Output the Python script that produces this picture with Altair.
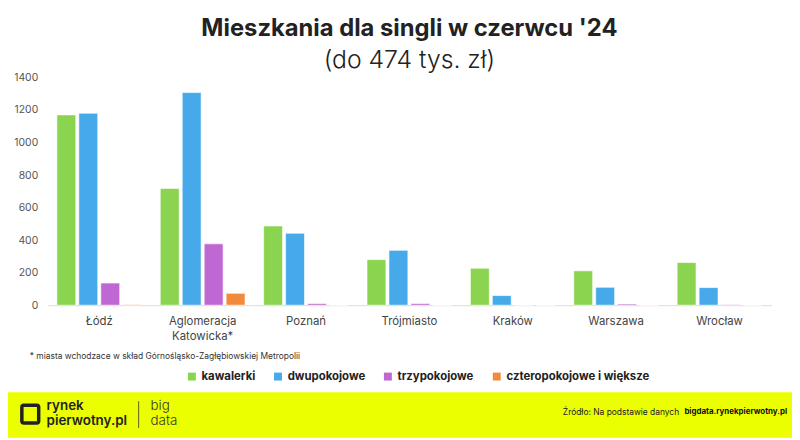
import altair as alt
import pandas as pd

cities = ["Łódź", "Aglomeracja Katowicka*", "Poznań", "Trójmiasto", "Kraków", "Warszawa", "Wrocław"]
types = ["kawalerki", "dwupokojowe", "trzypokojowe", "czteropokojowe i większe"]
kawalerki = [1170, 718, 487, 280, 227, 211, 262]
dwupokojowe = [1180, 1307, 442, 337, 59, 110, 108]
trzypokojowe = [136, 377, 10, 10, 0, 7, 3]
czteropokojowe = [3, 73, 0, 0, 0, 0, 0]
colors = ["#8AD44F", "#46A9EA", "#BF67D3", "#F18B3B"]
y_ticks = [0, 200, 400, 600, 800, 1000, 1200, 1400]

series = [kawalerki, dwupokojowe, trzypokojowe, czteropokojowe]
rows = []
for t, vals in zip(types, series):
    for c, v in zip(cities, vals):
        rows.append({"miasto": c, "typ": t, "liczba": v})
df = pd.DataFrame(rows)

FONT = "Inter"
W, H = 731, 230

bars = alt.Chart(df).mark_bar(stroke="white", strokeWidth=1, strokeOpacity=0.6).encode(
    x=alt.X("miasto:N", sort=cities, title=None,
            scale=alt.Scale(paddingInner=0.18, paddingOuter=0.09),
            axis=alt.Axis(labelAngle=0, ticks=False, domainColor="#dddddd", domainWidth=1,
                          labelFont=FONT, labelFontSize=11.5, labelColor="#444444",
                          labelPadding=11, labelLineHeight=15,
                          labelExpr="datum.label == 'Aglomeracja Katowicka*' ? ['Aglomeracja', 'Katowicka*'] : datum.label")),
    xOffset=alt.XOffset("typ:N", sort=types, scale=alt.Scale(paddingInner=0.14, paddingOuter=0)),
    y=alt.Y("liczba:Q", title=None, scale=alt.Scale(domain=[0, 1400], nice=False),
            axis=alt.Axis(values=y_ticks, format="d", grid=False, domain=False, ticks=False,
                          labelFont=FONT, labelFontSize=10.5, labelColor="#555555", labelPadding=10)),
    color=alt.Color("typ:N", sort=types, title=None,
                    scale=alt.Scale(domain=types, range=colors),
                    legend=alt.Legend(orient="none", legendX=140, legendY=296, direction="horizontal",
                                      symbolType="square", symbolSize=64, symbolStrokeWidth=0,
                                      labelFont=FONT, labelFontSize=11.5, labelFontWeight="bold",
                                      labelColor="#222222", columnPadding=17, labelOffset=4,
                                      labelLimit=300)),
)


def deco():
    return alt.Chart(alt.Data(values=[{"k": 1}]))


# Abs pixel -> plot coords: x - 48, y - 76
footer = deco().mark_rect(color="#EBFF00").encode(
    x=alt.value(-40), x2=alt.value(752), y=alt.value(318), y2=alt.value(364))

footnote = deco().mark_text(align="left", baseline="middle", font=FONT, fontSize=8.5, color="#333333").encode(
    x=alt.value(30 - 48), y=alt.value(357 - 76),
    text=alt.value("* miasta wchodzace w skład Górnośląsko-Zagłębiowskiej Metropolii"))

logo_box = deco().mark_rect(fillOpacity=0, stroke="#222222", strokeWidth=3.5, cornerRadius=2).encode(
    x=alt.value(22 - 48), x2=alt.value(39 - 48), y=alt.value(407 - 76), y2=alt.value(425 - 76))
logo_rynek = deco().mark_text(align="left", baseline="middle", font=FONT, fontSize=13.5, fontWeight=600,
                              color="#222222").encode(
    x=alt.value(47 - 48), y=alt.value(408 - 76), text=alt.value("rynek"))
logo_pierw = deco().mark_text(align="left", baseline="middle", font=FONT, fontSize=13.5, fontWeight=600,
                              color="#222222").encode(
    x=alt.value(47 - 48), y=alt.value(423 - 76), text=alt.value("pierwotny.pl"))
logo_sep = deco().mark_rule(color="#333333", strokeWidth=0.8).encode(
    x=alt.value(140 - 48), y=alt.value(403 - 76), y2=alt.value(430 - 76))
logo_big = deco().mark_text(align="left", baseline="middle", font=FONT, fontSize=13.5, fontWeight=300,
                            color="#333333").encode(
    x=alt.value(152 - 48), y=alt.value(408 - 76), text=alt.value("big"))
logo_data = deco().mark_text(align="left", baseline="middle", font=FONT, fontSize=13.5, fontWeight=300,
                             color="#333333").encode(
    x=alt.value(152 - 48), y=alt.value(423 - 76), text=alt.value("data"))

src_norm = deco().mark_text(align="right", baseline="middle", font=FONT, fontSize=8.5, color="#222222").encode(
    x=alt.value(686 - 48), y=alt.value(414 - 76), text=alt.value("Źródło: Na podstawie danych"))
src_bold = deco().mark_text(align="right", baseline="middle", font=FONT, fontSize=8, fontWeight="bold",
                            color="#111111").encode(
    x=alt.value(795 - 48), y=alt.value(414 - 76), text=alt.value("bigdata.rynekpierwotny.pl"))

chart = alt.layer(
    footer, bars, footnote, logo_box, logo_rynek, logo_pierw, logo_sep, logo_big, logo_data, src_norm, src_bold
).properties(
    width=W, height=H,
    autosize=alt.AutoSizeParams(type="none"),
    padding={"left": 40, "top": 68, "right": 21, "bottom": 134},
    title=alt.TitleParams(
        text="Mieszkania dla singli w czerwcu '24",
        subtitle="(do 474 tys. zł)",
        anchor="middle", frame="group",
        font=FONT, fontSize=24, fontWeight="bold", color="#222222",
        subtitleFont=FONT, subtitleFontSize=25, subtitleFontWeight=300, subtitleColor="#222222",
        subtitlePadding=7, offset=0,
    ),
).configure_view(stroke=None)

chart.save("out.html", embed_options={"renderer": "svg", "actions": False})
